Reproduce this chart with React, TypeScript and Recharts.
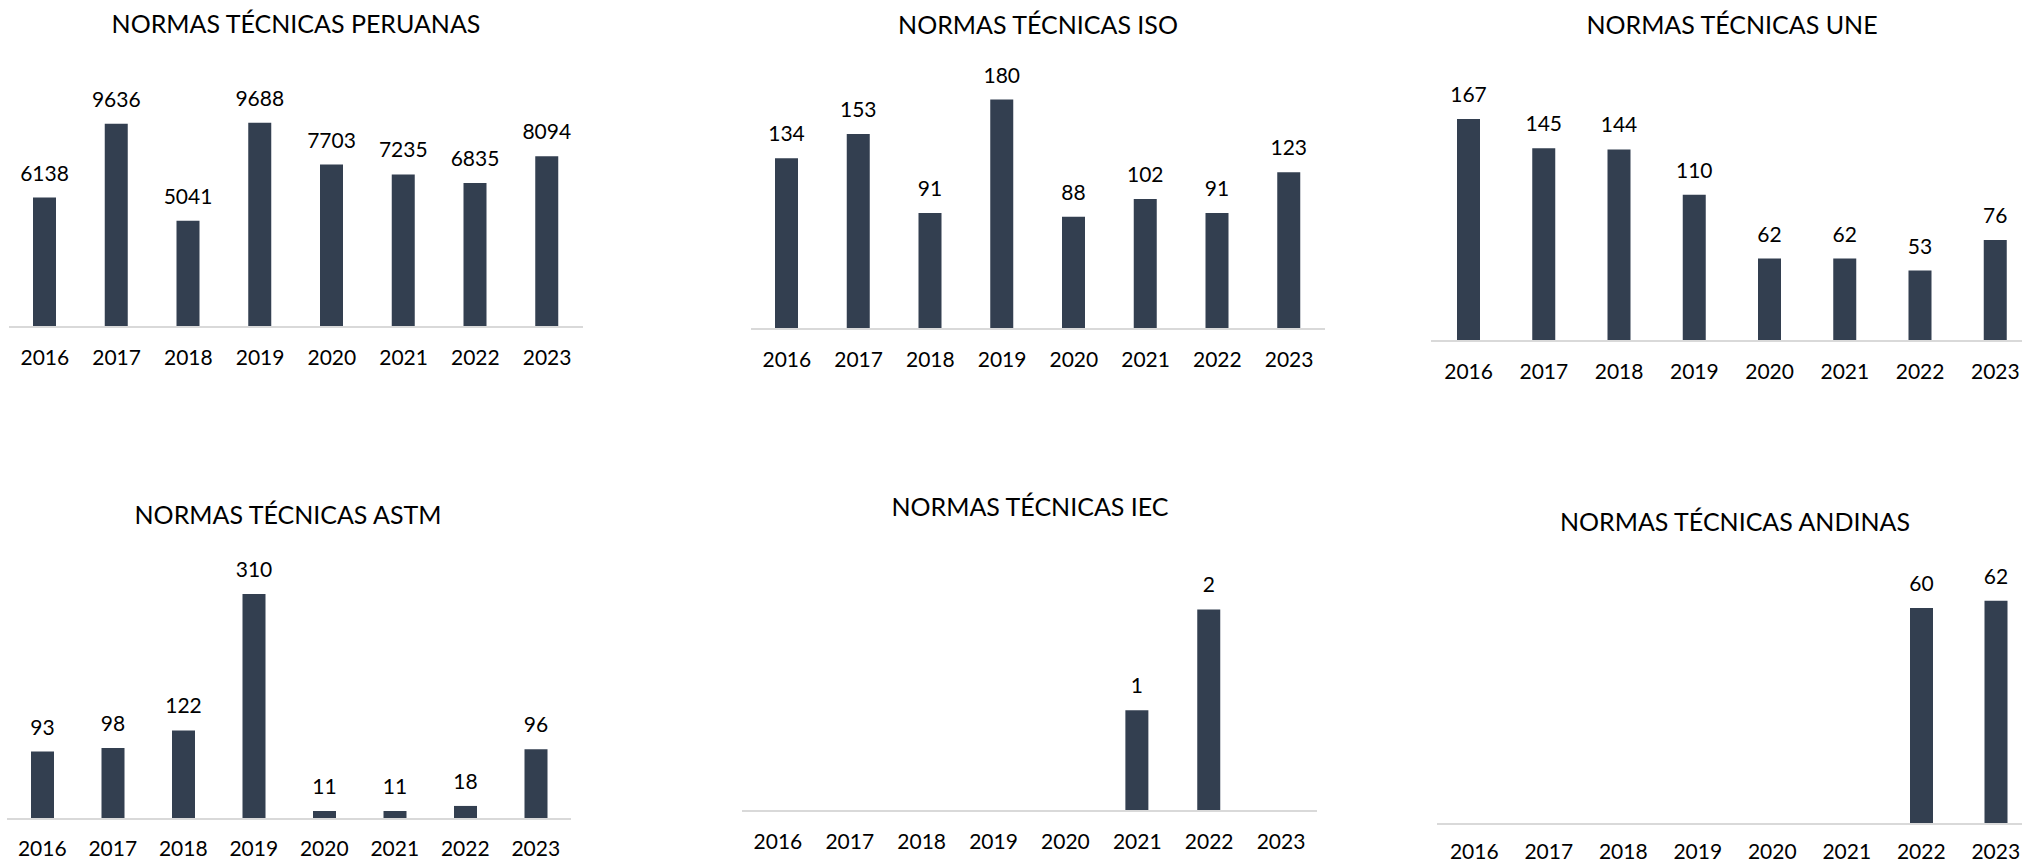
import { BarChart, Bar, XAxis, YAxis, LabelList } from 'recharts'

const years = ['2016', '2017', '2018', '2019', '2020', '2021', '2022', '2023']

const peruanas = [6138, 9636, 5041, 9688, 7703, 7235, 6835, 8094]
const iso = [134, 153, 91, 180, 88, 102, 91, 123]
const une = [167, 145, 144, 110, 62, 62, 53, 76]
const astm = [93, 98, 122, 310, 11, 11, 18, 96]
const iec = [null, null, null, null, null, 1, 2, null]
const andinas = [null, null, null, null, null, null, 60, 62]

const BAR_COLOR = '#333f50'
const AXIS_COLOR = '#d9d9d9'
const FONT = 'Lato, "Open Sans", sans-serif'

interface PanelProps {
  title:      string
  values:     (number | null)[]
  yMax:       number
  left:       number
  width:      number
  baseline:   number
  plotH:      number
  titleX:     number
  titleY:     number
  tickMargin?: number
}

// room above the plot for the value labels, room below for the years
const TOP_PAD = 45
const AXIS_H = 60

function Panel({ title, values, yMax, left, width, baseline, plotH, titleX, titleY, tickMargin = 23 }: PanelProps) {
  const data = years.map((y, i) => ({ year: y, value: values[i] }))
  return (
    <>
      <div
        style={{
          position: 'absolute',
          left: titleX - 300,
          width: 600,
          top: titleY - 13,
          textAlign: 'center',
          fontFamily: FONT,
          fontSize: 25,
          lineHeight: '25px',
          color: '#000',
          whiteSpace: 'nowrap',
        }}
      >
        {title}
      </div>
      <div style={{ position: 'absolute', left, top: baseline - plotH - TOP_PAD }}>
        <BarChart
          width={width}
          height={plotH + TOP_PAD + AXIS_H}
          data={data}
          margin={{ top: TOP_PAD, right: 0, bottom: 0, left: 0 }}
        >
          <XAxis
            dataKey="year"
            height={AXIS_H}
            tickLine={false}
            tickSize={0}
            tickMargin={tickMargin}
            axisLine={{ stroke: AXIS_COLOR, strokeWidth: 2 }}
            tick={{ fill: '#000', fontSize: 21, fontFamily: FONT }}
            interval={0}
          />
          <YAxis hide domain={[0, yMax]} />
          <Bar dataKey="value" fill={BAR_COLOR} barSize={23} isAnimationActive={false}>
            <LabelList
              dataKey="value"
              position="top"
              offset={17}
              fill="#000"
              fontSize={21}
              fontFamily={FONT}
              formatter={(v: unknown) => (v == null ? '' : String(v))}
            />
          </Bar>
        </BarChart>
      </div>
    </>
  )
}

export default function App() {
  return (
    <div
      style={{
        position: 'absolute',
        left: 0,
        top: 0,
        width: 2022,
        height: 864,
        overflow: 'hidden',
        background: '#fff',
      }}
    >
      <Panel title="NORMAS TÉCNICAS PERUANAS" values={peruanas} yMax={12000}
        left={9} width={574} baseline={327} plotH={253} titleX={296} titleY={24} />
      <Panel title="NORMAS TÉCNICAS ISO" values={iso} yMax={200}
        left={751} width={574} baseline={329} plotH={255} titleX={1038} titleY={25} />
      <Panel title="NORMAS TÉCNICAS UNE" values={une} yMax={200}
        left={1431} width={602} baseline={341} plotH={266} titleX={1732} titleY={25} />
      <Panel title="NORMAS TÉCNICAS ASTM" values={astm} yMax={350}
        left={7} width={564} baseline={819} plotH={254} titleX={288} titleY={515} tickMargin={22} />
      <Panel title="NORMAS TÉCNICAS IEC" values={iec} yMax={2.5}
        left={742} width={575} baseline={811} plotH={252} titleX={1030} titleY={507} />
      <Panel title="NORMAS TÉCNICAS ANDINAS" values={andinas} yMax={70}
        left={1437} width={596} baseline={824} plotH={252} titleX={1735} titleY={522} tickMargin={20} />
    </div>
  )
}
